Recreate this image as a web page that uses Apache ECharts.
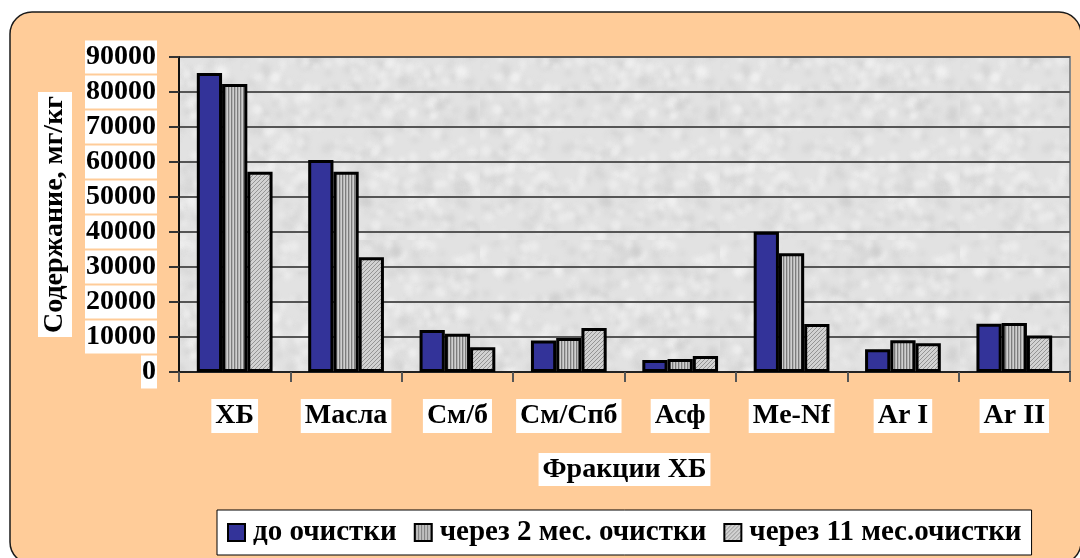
<!DOCTYPE html>
<html>
<head>
<meta charset="utf-8">
<style>
  html, body { margin: 0; padding: 0; background: #ffffff; }
  #chart { width: 1080px; height: 558px; }
</style>
<script src="https://cdn.jsdelivr.net/npm/echarts@6/dist/echarts.min.js"></script>
</head>
<body>
<div id="chart"></div>
<script>
// Fractions of hydrocarbons and their content, mg/kg
const categories = ['ХБ', 'Масла', 'См/б', 'См/Спб', 'Асф', 'Me-Nf', 'Ar I', 'Ar II'];
const seriesNames = ['до очистки', 'через 2 мес. очистки', 'через 11 мес.очистки'];
const beforeCleanup = [85400, 60600, 12000, 9000, 3400, 40100, 6500, 13800];
const after2Months  = [82300, 57200, 10900, 9700, 3700, 33900, 9100, 14000];
const after11Months = [57200, 32800, 7100, 12600, 4600, 13700, 8200, 10400];
const valueSets = [beforeCleanup, after2Months, after11Months];

const FONT = '"Liberation Serif", "Times New Roman", serif';

// Small canvas tiles used as fills
function tile(w, h, draw) {
  const c = document.createElement('canvas');
  c.width = w; c.height = h;
  draw(c.getContext('2d'), w, h);
  return { image: c, repeat: 'repeat' };
}

// Vertical stripes
const stripeFill = tile(3, 4, (ctx) => {
  const cols = ['#7c7c7c', '#b4b4b4', '#cfcfcf'];
  cols.forEach((col, i) => { ctx.fillStyle = col; ctx.fillRect(i, 0, 1, 4); });
});

// Fine diagonal hatch
const hatchFill = tile(4, 4, (ctx) => {
  ctx.fillStyle = '#d2d2d2';
  ctx.fillRect(0, 0, 4, 4);
  ctx.fillStyle = '#949494';
  for (let i = 0; i < 4; i++) ctx.fillRect(i, 3 - i, 1, 1);
});

// Granite-like plot background
const graniteFill = tile(240, 240, (ctx, w, h) => {
  ctx.fillStyle = '#e2e2e2';
  ctx.fillRect(0, 0, w, h);
  let s = 12345;
  const rnd = () => { s = (s * 1103515245 + 12345) & 0x7fffffff; return s / 0x7fffffff; };
  ctx.filter = 'blur(2px)';
  for (let i = 0; i < 700; i++) {
    const x = rnd() * w, y = rnd() * h, r = 1.5 + rnd() * 4;
    const light = rnd() > 0.45;
    ctx.fillStyle = light ? 'rgba(246,246,246,0.5)' : 'rgba(200,200,200,0.35)';
    ctx.beginPath();
    ctx.arc(x, y, r, 0, Math.PI * 2);
    ctx.fill();
  }
  ctx.filter = 'none';
});

const fills = ['#333399', stripeFill, hatchFill];

const chart = echarts.init(document.getElementById('chart'), null, { renderer: 'canvas' });

chart.setOption({
  animation: false,
  backgroundColor: '#ffffff',
  graphic: [{
    type: 'rect',
    z: -10,
    silent: true,
    shape: { x: 10, y: 12, width: 1071, height: 552, r: 22 },
    style: { fill: '#ffcc99', stroke: '#1a1a1a', lineWidth: 1.5 }
  }],
  grid: {
    left: 179, right: 10, top: 57, bottom: 186,
    show: true,
    backgroundColor: graniteFill,
    borderColor: '#8a8a8a',
    borderWidth: 2
  },
  legend: {
    left: 217, top: 510,
    padding: [8, 10, 8, 10],
    itemGap: 17,
    itemWidth: 17, itemHeight: 17,
    icon: 'rect',
    backgroundColor: '#ffffff',
    borderColor: '#000000',
    borderWidth: 1,
    borderRadius: 0,
    itemStyle: { borderColor: '#000000', borderWidth: 2 },
    textStyle: { fontFamily: FONT, fontWeight: 'bold', fontSize: 29, color: '#000', padding: [0, 0, 0, 3] },
    data: seriesNames
  },
  xAxis: {
    type: 'category',
    data: categories,
    name: 'Фракции ХБ',
    nameLocation: 'middle',
    nameGap: 81,
    nameTextStyle: {
      fontFamily: FONT, fontWeight: 'bold', fontSize: 28, color: '#000',
      backgroundColor: '#fff', padding: [3, 4, 2, 4]
    },
    axisLine: { lineStyle: { color: '#222', width: 2 } },
    axisTick: { show: true, length: 10, lineStyle: { color: '#555', width: 2 } },
    axisLabel: {
      interval: 0,
      margin: 27,
      fontFamily: FONT, fontWeight: 'bold', fontSize: 28, color: '#000',
      backgroundColor: '#fff', padding: [3, 4, 3, 4]
    }
  },
  yAxis: {
    type: 'value',
    min: 0, max: 90000, interval: 10000,
    name: 'Содержание, мг/кг',
    nameLocation: 'middle',
    nameRotate: 90,
    nameGap: 107,
    nameTextStyle: {
      fontFamily: FONT, fontWeight: 'bold', fontSize: 28, color: '#000',
      backgroundColor: '#fff', padding: [3, 4, 3, 4]
    },
    axisLine: { show: true, lineStyle: { color: '#111', width: 2 } },
    axisTick: { show: true, length: 10, lineStyle: { color: '#333', width: 2 } },
    splitLine: { lineStyle: { color: '#555', width: 2 } },
    axisLabel: {
      margin: 22,
      formatter: (v) => String(v),
      fontFamily: FONT, fontWeight: 'bold', fontSize: 28, color: '#000',
      backgroundColor: '#fff', padding: [3, 1, 2, 1]
    }
  },
  series: valueSets.map((vals, i) => ({
    name: seriesNames[i],
    type: 'bar',
    data: vals,
    barGap: '0%',
    barCategoryGap: '32%',
    itemStyle: { color: fills[i], borderColor: '#000', borderWidth: 3 }
  }))
});
</script>
</body>
</html>
